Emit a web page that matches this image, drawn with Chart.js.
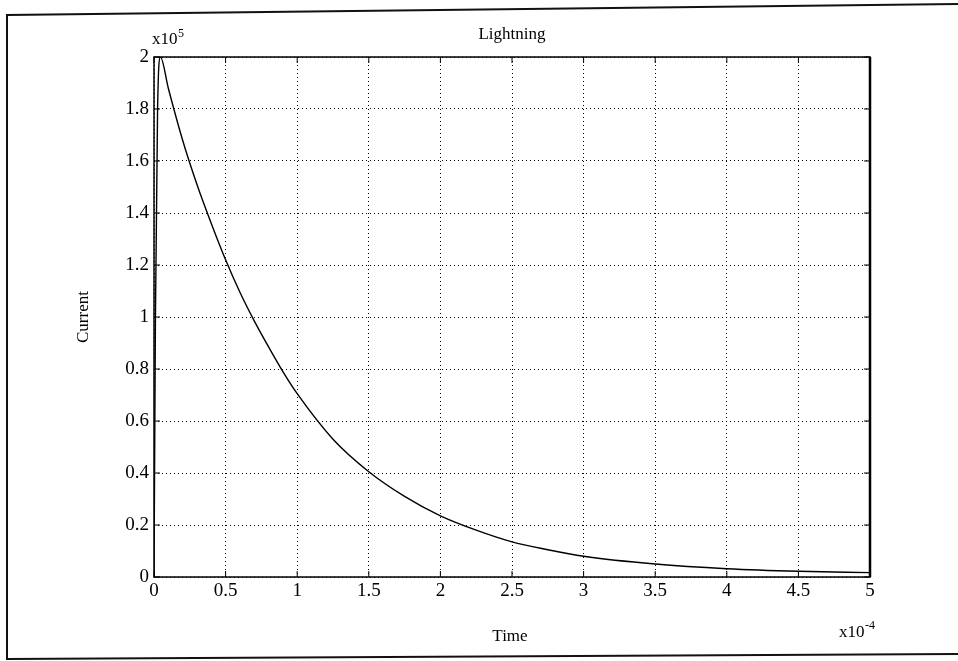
<!DOCTYPE html>
<html>
<head>
<meta charset="utf-8">
<title>Lightning</title>
<script src="https://cdn.jsdelivr.net/npm/chart.js@4.4.1/dist/chart.umd.min.js"></script>
<style>
  html, body { margin: 0; padding: 0; background: #fff; }
  #wrap { width: 958px; height: 661px; position: relative; }
</style>
</head>
<body>
<div id="wrap"><canvas id="chart" width="958" height="661"></canvas></div>
<script>
// time in units of 1e-4 s, current in units of 1e5 A
const timeValues    = [0, 0.01, 0.025, 0.045, 0.1, 0.2, 0.3, 0.4, 0.5, 0.6, 0.7, 0.8, 0.9, 1.0, 1.25, 1.5, 1.75, 2.0, 2.25, 2.5, 2.75, 3.0, 3.5, 4.0, 4.5, 5.0];
const currentValues = [0, 1.0, 1.8, 2.0, 1.88, 1.68, 1.51, 1.36, 1.22, 1.095, 0.985, 0.885, 0.79, 0.705, 0.53, 0.405, 0.31, 0.235, 0.18, 0.135, 0.105, 0.08, 0.05, 0.032, 0.022, 0.017];

const xTickLabels = ['0', '0.5', '1', '1.5', '2', '2.5', '3', '3.5', '4', '4.5', '5'];
const yTickLabels = ['0', '0.2', '0.4', '0.6', '0.8', '1', '1.2', '1.4', '1.6', '1.8', '2'];

const serif = '"Liberation Serif", "DejaVu Serif", serif';

const points = timeValues.map((t, i) => ({ x: t, y: currentValues[i] }));

// frame, box, inward ticks and the text around the axes
const decorations = {
  id: 'decorations',
  afterDraw(chart) {
    const { ctx, chartArea: a, scales } = chart;
    ctx.save();

    // outer figure frame
    ctx.strokeStyle = '#111';
    ctx.lineWidth = 2;
    ctx.beginPath();
    ctx.moveTo(958, 4);
    ctx.lineTo(7, 15);
    ctx.lineTo(7, 659);
    ctx.lineTo(958, 654);
    ctx.stroke();

    // axes box
    ctx.lineWidth = 1.5;
    ctx.strokeStyle = '#000';
    ctx.strokeRect(a.left, a.top, a.right - a.left, a.bottom - a.top);
    ctx.lineWidth = 2.5;
    ctx.beginPath();
    ctx.moveTo(a.right, a.top);
    ctx.lineTo(a.right, a.bottom);
    ctx.stroke();

    // inward tick marks on all four sides
    ctx.lineWidth = 1;
    ctx.beginPath();
    scales.x.ticks.forEach(t => {
      const px = scales.x.getPixelForValue(t.value);
      ctx.moveTo(px, a.bottom); ctx.lineTo(px, a.bottom - 6);
      ctx.moveTo(px, a.top); ctx.lineTo(px, a.top + 6);
    });
    scales.y.ticks.forEach(t => {
      const py = scales.y.getPixelForValue(t.value);
      ctx.moveTo(a.left, py); ctx.lineTo(a.left + 6, py);
      ctx.moveTo(a.right, py); ctx.lineTo(a.right - 6, py);
    });
    ctx.stroke();

    ctx.fillStyle = '#000';
    ctx.textBaseline = 'alphabetic';

    // title
    ctx.font = '17px ' + serif;
    ctx.textAlign = 'center';
    ctx.fillText('Lightning', (a.left + a.right) / 2, 39);

    // axis titles
    ctx.font = '17px ' + serif;
    ctx.fillText('Time', 510, 641);
    ctx.save();
    ctx.translate(88, (a.top + a.bottom) / 2);
    ctx.rotate(-Math.PI / 2);
    ctx.fillText('Current', 0, 0);
    ctx.restore();

    // exponent labels
    ctx.textAlign = 'left';
    ctx.font = '17px ' + serif;
    ctx.fillText('x10', 152, 44);
    ctx.font = '12px ' + serif;
    ctx.fillText('5', 178, 37);

    ctx.font = '17px ' + serif;
    ctx.fillText('x10', 839, 637);
    ctx.font = '12px ' + serif;
    ctx.fillText('-4', 865, 629);

    ctx.restore();
  }
};

new Chart(document.getElementById('chart'), {
  type: 'line',
  data: {
    datasets: [{
      label: 'Current',
      data: points,
      borderColor: '#000',
      borderWidth: 1.4,
      pointRadius: 0,
      fill: false,
      cubicInterpolationMode: 'monotone'
    }]
  },
  options: {
    responsive: false,
    animation: false,
    layout: { padding: { left: 0, top: 57, right: 88, bottom: 0 } },
    plugins: {
      legend: { display: false },
      tooltip: { enabled: false }
    },
    scales: {
      x: {
        type: 'linear',
        min: 0,
        max: 5,
        afterFit: s => { s.height = 661 - 57 - 520; },
        afterBuildTicks: s => { s.ticks = xTickLabels.map(v => ({ value: Number(v) })); },
        ticks: {
          color: '#000',
          font: { family: serif, size: 19 },
          padding: 3,
          maxRotation: 0,
          callback: (v, i) => xTickLabels[i]
        },
        grid: { color: '#000', lineWidth: 1, drawTicks: false },
        border: { display: false, dash: [1, 3] }
      },
      y: {
        min: 0,
        max: 2,
        afterFit: s => { s.width = 154; },
        afterBuildTicks: s => { s.ticks = yTickLabels.map(v => ({ value: Number(v) })); },
        ticks: {
          color: '#000',
          font: { family: serif, size: 19 },
          padding: 5,
          callback: (v, i) => yTickLabels[i]
        },
        grid: { color: '#000', lineWidth: 1, drawTicks: false },
        border: { display: false, dash: [1, 3] }
      }
    }
  },
  plugins: [decorations]
});
</script>
</body>
</html>
